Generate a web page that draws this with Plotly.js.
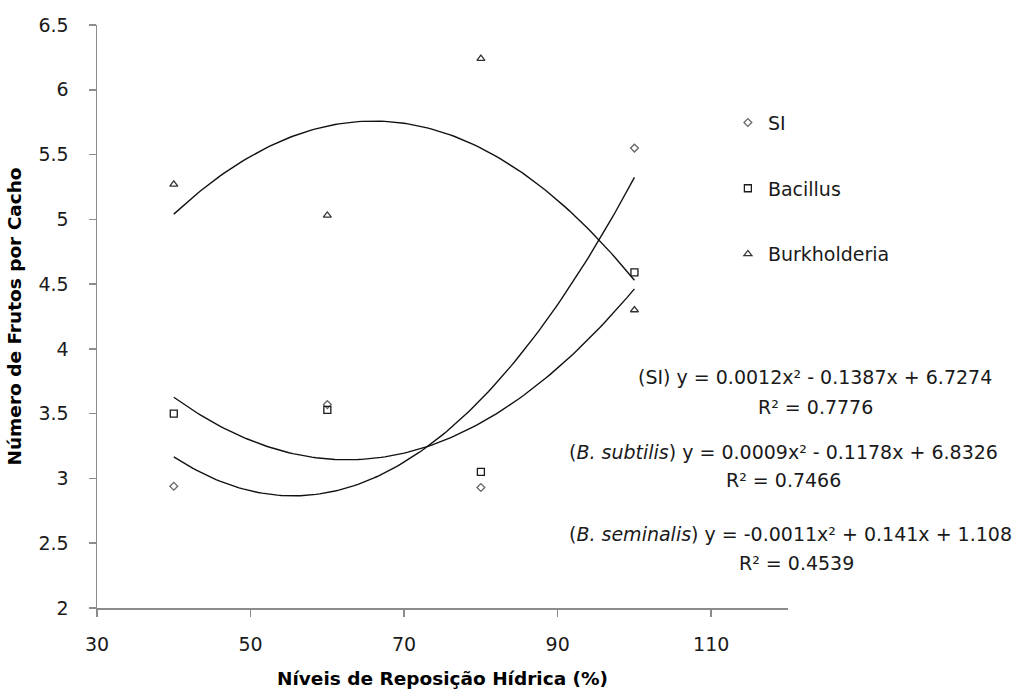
<!DOCTYPE html>
<html>
<head>
<meta charset="utf-8">
<script src="https://cdn.plot.ly/plotly-3.0.1.min.js"></script>
<style>html,body{margin:0;padding:0;background:#fff;}#chart{width:1023px;height:691px;}</style>
</head>
<body>
<div id="chart"></div>
<script>
// ---- data ----
const niveis = [40, 60, 80, 100];
const serieNames = ["SI", "Bacillus", "Burkholderia"];
const siValues = [2.94, 3.57, 2.93, 5.55];
const bacillusValues = [3.50, 3.53, 3.05, 4.59];
const burkholderiaValues = [5.27, 5.03, 6.24, 4.30];
const equationLabels = [
  "(SI) y = 0.0012x² - 0.1387x + 6.7274",
  "(<i>B. subtilis</i>) y = 0.0009x² - 0.1178x + 6.8326",
  "(<i>B. seminalis</i>) y = -0.0011x² + 0.141x + 1.108"
];
const r2Labels = ["R² = 0.7776", "R² = 0.7466", "R² = 0.4539"];
const xTitle = "Níveis de Reposição Hídrica (%)";
const yTitle = "Número de Frutos por Cacho";

// ---- least-squares quadratic trendline computed from the data ----
function quadFit(xs, ys) {
  const n = xs.length;
  let s = [0,0,0,0,0], t = [0,0,0];
  for (let i = 0; i < n; i++) {
    const x = xs[i], y = ys[i];
    for (let k = 0; k < 5; k++) s[k] += Math.pow(x, k);
    for (let k = 0; k < 3; k++) t[k] += Math.pow(x, k) * y;
  }
  const A = [[s[0], s[1], s[2], t[0]], [s[1], s[2], s[3], t[1]], [s[2], s[3], s[4], t[2]]];
  for (let i = 0; i < 3; i++) {
    let p = i;
    for (let r = i + 1; r < 3; r++) if (Math.abs(A[r][i]) > Math.abs(A[p][i])) p = r;
    [A[i], A[p]] = [A[p], A[i]];
    for (let r = 0; r < 3; r++) {
      if (r === i) continue;
      const f = A[r][i] / A[i][i];
      for (let c = i; c < 4; c++) A[r][c] -= f * A[i][c];
    }
  }
  return [A[0][3] / A[0][0], A[1][3] / A[1][1], A[2][3] / A[2][2]];
}
function trend(xs, ys) {
  const c = quadFit(xs, ys);
  const lo = Math.min(...xs), hi = Math.max(...xs);
  const tx = [], ty = [];
  for (let i = 0; i <= 120; i++) {
    const x = lo + (hi - lo) * i / 120;
    tx.push(x); ty.push(c[0] + c[1] * x + c[2] * x * x);
  }
  return {x: tx, y: ty};
}

const seriesValues = [siValues, bacillusValues, burkholderiaValues];
const symbols = ["diamond-open", "square-open", "triangle-up-open"];
const markerColors = ["#666666", "#1a1a1a", "#333333"];
const markerSizes = [6, 7, 7];

const traces = [];
seriesValues.forEach((vals, i) => {
  const t = trend(niveis, vals);
  traces.push({
    x: t.x, y: t.y, mode: "lines", type: "scatter",
    line: {color: "#111111", width: 1.4}, showlegend: false, hoverinfo: "skip"
  });
});
seriesValues.forEach((vals, i) => {
  traces.push({
    x: niveis, y: vals, mode: "markers", type: "scatter", name: serieNames[i],
    legendgroup: "g" + i,
    marker: {symbol: symbols[i], size: markerSizes[i], color: markerColors[i], line: {width: 1.3, color: markerColors[i]}},
    cliponaxis: false
  });
});

const FONT = "DejaVu Sans";
const textColor = "#1a1a1a";
const annotations = [];
const eqPos = [[1.039, 0.396], [0.993, 0.267], [1.003, 0.127]];
const r2Pos = [[1.0405, 0.345], [0.994, 0.219], [1.0116, 0.077]];
equationLabels.forEach((txt, i) => {
  annotations.push({xref: "paper", yref: "paper", x: eqPos[i][0], y: eqPos[i][1], text: txt,
    showarrow: false, xanchor: "center", yanchor: "middle", font: {family: FONT, size: 19, color: textColor}});
  annotations.push({xref: "paper", yref: "paper", x: r2Pos[i][0], y: r2Pos[i][1], text: r2Labels[i],
    showarrow: false, xanchor: "center", yanchor: "middle", font: {family: FONT, size: 19, color: textColor}});
});

const layout = {
  width: 1023, height: 691,
  margin: {l: 97, r: 235, t: 25, b: 83},
  paper_bgcolor: "#ffffff", plot_bgcolor: "#ffffff",
  font: {family: FONT, size: 19, color: textColor},
  showlegend: true,
  legend: {
    x: 0.913, y: 0.865, xanchor: "left", yanchor: "top",
    font: {family: FONT, size: 19, color: textColor},
    traceorder: "grouped", tracegroupgap: 38, itemwidth: 30,
    bgcolor: "rgba(0,0,0,0)"
  },
  xaxis: {
    range: [30, 120], tick0: 30, dtick: 20, showgrid: false, zeroline: false,
    showline: true, linecolor: "#8c8c8c", linewidth: 1.5,
    ticks: "outside", ticklen: 7, tickwidth: 1.5, tickcolor: "#8c8c8c",
    ticklabelstandoff: 12,
    tickfont: {family: FONT, size: 19, color: textColor},
    title: {text: xTitle, standoff: 18, font: {family: FONT, size: 18.5, color: "#000000", weight: "bold"}}
  },
  yaxis: {
    range: [2, 6.5], tick0: 2, dtick: 0.5, showgrid: false, zeroline: false,
    showline: true, linecolor: "#8c8c8c", linewidth: 1.5,
    ticks: "outside", ticklen: 7, tickwidth: 1.5, tickcolor: "#8c8c8c",
    ticklabelstandoff: 16,
    tickfont: {family: FONT, size: 19, color: textColor},
    title: {text: yTitle, standoff: 12, font: {family: FONT, size: 18.5, color: "#000000", weight: "bold"}}
  },
  annotations: annotations
};

Plotly.newPlot("chart", traces, layout, {displayModeBar: false, staticPlot: true});
</script>
</body>
</html>
